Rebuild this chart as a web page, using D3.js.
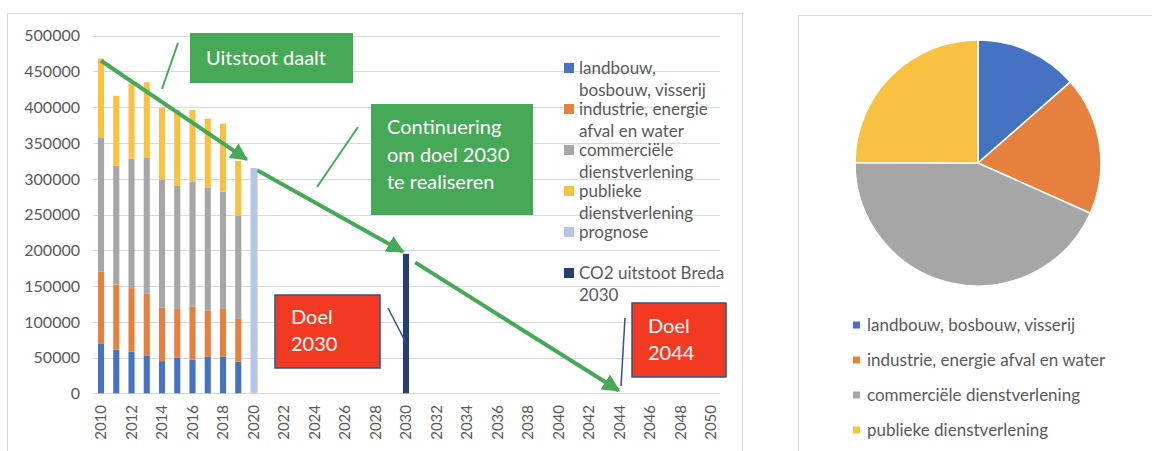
<!DOCTYPE html>
<html>
<head>
<meta charset="utf-8">
<script src="https://cdn.jsdelivr.net/npm/d3@7"></script>
<style>
  body { margin: 0; background: #fff; }
  svg { display: block; font-family: Lato, "Open Sans", sans-serif; }
</style>
</head>
<body>
<svg id="chart" width="1152" height="451"></svg>
<script>
// ---- data ----
var years = d3.range(2010, 2051).map(String);
var histYears = ["2010","2011","2012","2013","2014","2015","2016","2017","2018","2019"];
var seriesNames = ["landbouw, bosbouw, visserij", "industrie, energie afval en water", "commerciële dienstverlening", "publieke dienstverlening"];
var landbouw    = [69000, 61000, 58000, 53000, 45000, 50000, 47000, 51000, 51000, 44000];
var industrie   = [101000, 91000, 89000, 86000, 75000, 68000, 74000, 65000, 67000, 60000];
var commercieel = [188000, 166000, 181000, 190000, 179000, 172000, 175000, 172000, 164000, 144000];
var publiek     = [110000, 98000, 105000, 106000, 100000, 106000, 100000, 96000, 95000, 77000];
var prognoseYear = "2020";
var prognoseValue = 315000;
var doelYear = "2030";
var doelValue = 195000;
var yTicks = [0, 50000, 100000, 150000, 200000, 250000, 300000, 350000, 400000, 450000, 500000];
var pieValues = [44000, 59000, 141000, 81000];

var colors = ["#4672C2", "#E5803F", "#A6A6A6", "#F9C142"];
var prognoseColor = "#B4C7E7";
var doelColor = "#253F6E";
var green = "#46A957";
var red = "#F23A22";
var textGray = "#595959";

var svg = d3.select("#chart");

// ---- panels ----
svg.append("rect").attr("x", 7.5).attr("y", 13.5).attr("width", 735).attr("height", 460)
  .attr("fill", "#fff").attr("stroke", "#d9d9d9");
svg.append("rect").attr("x", 798.5).attr("y", 15.5).attr("width", 400).attr("height", 460)
  .attr("fill", "#fff").attr("stroke", "#d9d9d9");

// ---- scales ----
var x = d3.scaleBand().domain(years).range([93.4, 718.6]).paddingInner(0.6).paddingOuter(0.3);
var y = d3.scaleLinear().domain([0, 500000]).range([393.3, 35.7]);
var step = x.step();
function xc(year) { // center of a (fractional) year
  return x("2010") + x.bandwidth() / 2 + (year - 2010) * step;
}

// gridlines
svg.append("g").selectAll("line").data(yTicks).enter().append("line")
  .attr("x1", 93).attr("x2", 720)
  .attr("y1", function(d){ return Math.round(y(d)) + 0.5; })
  .attr("y2", function(d){ return Math.round(y(d)) + 0.5; })
  .attr("stroke", "#d9d9d9").attr("stroke-width", 1);

// y labels
svg.append("g").selectAll("text").data(yTicks).enter().append("text")
  .attr("x", 80).attr("y", function(d){ return y(d); })
  .attr("dy", "0.36em").attr("text-anchor", "end")
  .attr("font-size", 16).attr("fill", textGray)
  .text(function(d){ return d; });

// x labels (every second year)
svg.append("g").selectAll("text").data(years.filter(function(d, i){ return i % 2 == 0; })).enter().append("text")
  .attr("transform", function(d){ return "translate(" + (x(d) + x.bandwidth()/2) + ",405) rotate(-90)"; })
  .attr("dy", "0.36em").attr("text-anchor", "end")
  .attr("font-size", 15).attr("fill", textGray)
  .text(function(d){ return d; });

// ---- stacked bars ----
var rows = histYears.map(function(yr, i){
  return {year: yr, s0: landbouw[i], s1: industrie[i], s2: commercieel[i], s3: publiek[i]};
});
var stack = d3.stack().keys(["s0", "s1", "s2", "s3"]);
var layers = stack(rows);

svg.append("g").selectAll("g").data(layers).enter().append("g")
  .attr("fill", function(d, i){ return colors[i]; })
  .selectAll("rect").data(function(d){ return d; }).enter().append("rect")
  .attr("x", function(d){ return x(d.data.year); })
  .attr("width", x.bandwidth())
  .attr("y", function(d){ return y(d[1]); })
  .attr("height", function(d){ return y(d[0]) - y(d[1]); });

svg.append("rect")
  .attr("x", x(prognoseYear)).attr("width", x.bandwidth() + 1)
  .attr("y", y(prognoseValue)).attr("height", y(0) - y(prognoseValue))
  .attr("fill", prognoseColor);

svg.append("rect")
  .attr("x", x(doelYear)).attr("width", x.bandwidth())
  .attr("y", y(doelValue)).attr("height", y(0) - y(doelValue))
  .attr("fill", doelColor);

// ---- legend (left chart) ----
var legendItems = [
  {color: colors[0], lines: ["landbouw,", "bosbouw, visserij"]},
  {color: colors[1], lines: ["industrie, energie", "afval en water"]},
  {color: colors[2], lines: ["commerciële", "dienstverlening"]},
  {color: colors[3], lines: ["publieke", "dienstverlening"]},
  {color: prognoseColor, lines: ["prognose"]},
  {color: doelColor, lines: ["CO2 uitstoot Breda", "2030"]}
];
var leg = svg.append("g").selectAll("g").data(legendItems).enter().append("g")
  .attr("transform", function(d, i){ return "translate(564," + (68 + i * 41) + ")"; });
leg.append("rect").attr("x", 0).attr("y", -5).attr("width", 10).attr("height", 10)
  .attr("fill", function(d){ return d.color; });
leg.selectAll("text").data(function(d){ return d.lines; }).enter().append("text")
  .attr("x", 15).attr("y", function(d, i){ return i * 22; })
  .attr("dy", "0.36em").attr("font-size", 17).attr("fill", textGray)
  .text(function(d){ return d; });

// ---- annotations ----
var defs = svg.append("defs");
defs.append("marker").attr("id", "head")
  .attr("viewBox", "0 0 10 10").attr("refX", 9).attr("refY", 5)
  .attr("markerWidth", 4.4).attr("markerHeight", 4.6)
  .attr("markerUnits", "strokeWidth").attr("orient", "auto")
  .append("path").attr("d", "M0,0 L10,5 L0,10 Z").attr("fill", green);

// arrows in data coordinates [year, value]
var arrows = [
  [[2010, 465000], [2019.55, 327000]],
  [[2020.25, 312000], [2029.8, 198000]],
  [[2030.6, 183000], [2043.95, 4000]]
];
svg.append("g").selectAll("line").data(arrows).enter().append("line")
  .attr("x1", function(d){ return xc(d[0][0]); }).attr("y1", function(d){ return y(d[0][1]); })
  .attr("x2", function(d){ return xc(d[1][0]); }).attr("y2", function(d){ return y(d[1][1]); })
  .attr("stroke", green).attr("stroke-width", 4).attr("marker-end", "url(#head)");

// callout lines
svg.append("line").attr("x1", 178).attr("y1", 43).attr("x2", 162).attr("y2", 89)
  .attr("stroke", green).attr("stroke-width", 2);
svg.append("line").attr("x1", 358).attr("y1", 127).attr("x2", 317).attr("y2", 187)
  .attr("stroke", green).attr("stroke-width", 2);
svg.append("line").attr("x1", 388).attr("y1", 308).attr("x2", 406).attr("y2", 343)
  .attr("stroke", "#2F528F").attr("stroke-width", 1.5);
svg.append("line").attr("x1", 625).attr("y1", 318).attr("x2", 621).attr("y2", 386)
  .attr("stroke", "#2F528F").attr("stroke-width", 1.5);

var boxes = [
  {x: 190, y: 33, w: 163, h: 50, fill: green, stroke: "none", tx: 206, ty: [58], lines: ["Uitstoot daalt"]},
  {x: 371, y: 104, w: 162, h: 111, fill: green, stroke: "none", tx: 387, ty: [127, 155, 182], lines: ["Continuering", "om doel 2030", "te realiseren"]},
  {x: 275, y: 295, w: 105, h: 73, fill: red, stroke: "#2F528F", tx: 291, ty: [317, 344], lines: ["Doel", "2030"]},
  {x: 632, y: 303, w: 94, h: 74, fill: red, stroke: "#2F528F", tx: 648, ty: [326, 353], lines: ["Doel", "2044"]}
];
var bx = svg.append("g").selectAll("g").data(boxes).enter().append("g");
bx.append("rect")
  .attr("x", function(d){ return d.x; }).attr("y", function(d){ return d.y; })
  .attr("width", function(d){ return d.w; }).attr("height", function(d){ return d.h; })
  .attr("fill", function(d){ return d.fill; })
  .attr("stroke", function(d){ return d.stroke; }).attr("stroke-width", 1.5);
bx.each(function(b){
  d3.select(this).selectAll("text").data(b.lines).enter().append("text")
    .attr("x", b.tx).attr("y", function(d, i){ return b.ty[i]; })
    .attr("dy", "0.36em").attr("font-size", 20).attr("fill", "#fff")
    .text(function(d){ return d; });
});

// ---- pie chart ----
var pie = d3.pie().sort(null).value(function(d){ return d; });
var arc = d3.arc().innerRadius(0).outerRadius(123);
var pieG = svg.append("g").attr("transform", "translate(978,163)");
pieG.selectAll("path").data(pie(pieValues)).enter().append("path")
  .attr("d", arc)
  .attr("fill", function(d, i){ return colors[i]; })
  .attr("stroke", "#fff").attr("stroke-width", 1.5);

var pieLeg = svg.append("g").selectAll("g").data(seriesNames).enter().append("g")
  .attr("transform", function(d, i){ return "translate(853," + (325 + i * 35) + ")"; });
pieLeg.append("rect").attr("x", 0).attr("y", -3.5).attr("width", 7).attr("height", 7)
  .attr("fill", function(d, i){ return colors[i]; });
pieLeg.append("text").attr("x", 14).attr("dy", "0.36em")
  .attr("font-size", 17).attr("fill", textGray)
  .text(function(d){ return d; });
</script>
</body>
</html>
